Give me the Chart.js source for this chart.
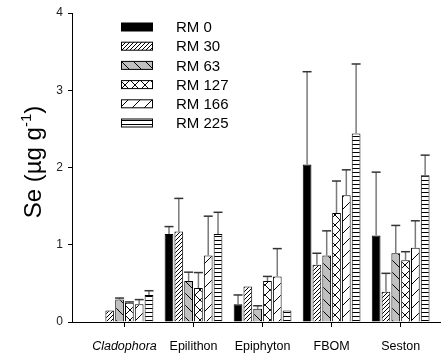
<!DOCTYPE html>
<html>
<head>
<meta charset="utf-8">
<script src="https://cdn.jsdelivr.net/npm/chart.js@4.4.0/dist/chart.umd.min.js"></script>
<style>
  body { margin: 0; background: #fff; }
  #wrap { width: 443px; height: 361px; }
</style>
</head>
<body>
<div id="wrap"><canvas id="seChart"></canvas></div>
<script>
// sample types along the x axis
const categories = ["Cladophora", "Epilithon", "Epiphyton", "FBOM", "Seston"];
const seriesNames = ["RM 0", "RM 30", "RM 63", "RM 127", "RM 166", "RM 225"];
const yTicks = [0, 1, 2, 3, 4];

// mean Se per site, one value per category
const rm0 = [null, 1.14, 0.23, 2.04, 1.12];
const rm30 = [0.15, 1.17, 0.46, 0.74, 0.39];
const rm63 = [0.29, 0.53, 0.17, 0.86, 0.89];
const rm127 = [0.25, 0.44, 0.53, 1.41, 0.80];
const rm166 = [0.23, 0.86, 0.59, 1.64, 0.96];
const rm225 = [0.35, 1.14, 0.15, 2.44, 1.90];

// upper error (SD) for each mean
const err0 = [null, 0.095, 0.12, 1.2, 0.82];
const err30 = [0, 0.43, 0, 0.15, 0.24];
const err63 = [0.02, 0.115, 0.04, 0.32, 0.36];
const err127 = [0.01, 0.2, 0.06, 0.415, 0.11];
const err166 = [0.06, 0.51, 0.36, 0.33, 0.35];
const err225 = [0.055, 0.28, 0, 0.9, 0.26];

const means = [rm0, rm30, rm63, rm127, rm166, rm225];
const errs = [err0, err30, err63, err127, err166, err225];

// fill patterns
function makePattern(w, h, bg, draw) {
  const c = document.createElement("canvas");
  c.width = w; c.height = h;
  const g = c.getContext("2d");
  g.fillStyle = bg;
  g.fillRect(0, 0, w, h);
  g.strokeStyle = "#000";
  g.lineWidth = 1;
  draw(g, w, h);
  return g.createPattern(c, "repeat");
}
function fwd(g, w, h) { // "/" lines
  g.beginPath();
  g.moveTo(-1, h + 1); g.lineTo(w + 1, -1);
  g.moveTo(-w - 1, h + 1); g.lineTo(1, -1);
  g.moveTo(w - 1, h + 1); g.lineTo(2 * w + 1, -1);
  g.stroke();
}
function back(g, w, h) { // "\" lines
  g.beginPath();
  g.moveTo(-1, -1); g.lineTo(w + 1, h + 1);
  g.moveTo(-w - 1, -1); g.lineTo(1, h + 1);
  g.moveTo(w - 1, -1); g.lineTo(2 * w + 1, h + 1);
  g.stroke();
}

const fills = [
  "#000",
  makePattern(4, 4, "#fff", fwd),
  makePattern(12, 12, "#c0c0c0", back),
  makePattern(10, 10, "#fff", (g, w, h) => { fwd(g, w, h); back(g, w, h); }),
  makePattern(12, 12, "#fff", fwd),
  makePattern(4, 4, "#fff", (g, w) => {
    g.beginPath(); g.moveTo(0, 0.5); g.lineTo(w, 0.5); g.stroke();
  })
];

const datasets = seriesNames.map((name, s) => ({
  label: name,
  data: means[s].map((v, i) => ({ x: i, y: v })),
  backgroundColor: fills[s],
  borderColor: "#000",
  borderWidth: 1,
  categoryPercentage: 0.852,
  barPercentage: 0.89
}));

// error bars above each bar
const errorBars = {
  id: "errorBars",
  afterDatasetsDraw(chart) {
    const ctx = chart.ctx;
    const y = chart.scales.y;
    ctx.save();
    chart.data.datasets.forEach((ds, s) => {
      const meta = chart.getDatasetMeta(s);
      meta.data.forEach((bar, i) => {
        const m = means[s][i], e = errs[s][i];
        if (m == null || !e) return;
        const top = y.getPixelForValue(m + e);
        ctx.strokeStyle = "#7a7a7a";
        ctx.lineWidth = 1.5;
        ctx.beginPath();
        ctx.moveTo(bar.x, bar.y);
        ctx.lineTo(bar.x, top);
        ctx.stroke();
        ctx.strokeStyle = "#333";
        ctx.beginPath();
        ctx.moveTo(bar.x - 4.5, top);
        ctx.lineTo(bar.x + 4.5, top);
        ctx.stroke();
      });
    });
    ctx.restore();
  }
};

// legend block and rotated y title
const decor = {
  id: "decor",
  afterDraw(chart) {
    const ctx = chart.ctx;
    ctx.save();
    ctx.font = "15px 'Liberation Sans', Arial, sans-serif";
    ctx.textBaseline = "middle";
    seriesNames.forEach((name, s) => {
      const cy = 27 + s * 19.2;
      ctx.fillStyle = fills[s];
      ctx.fillRect(121.5, cy - 4, 31, 8);
      ctx.strokeStyle = "#000";
      ctx.lineWidth = 1;
      ctx.strokeRect(121.5, cy - 4, 31, 8);
      ctx.fillStyle = "#000";
      ctx.fillText(name, 176, cy + 1);
    });

    ctx.translate(33, 162);
    ctx.rotate(-Math.PI / 2);
    const big = "24px 'Liberation Sans', Arial, sans-serif";
    const small = "15px 'Liberation Sans', Arial, sans-serif";
    const a = "Se (\u00b5g g", sup = "-1", b = ")";
    ctx.font = big; const wa = ctx.measureText(a).width, wb = ctx.measureText(b).width;
    ctx.font = small; const ws = ctx.measureText(sup).width;
    let x = -(wa + ws + wb) / 2;
    ctx.textBaseline = "alphabetic";
    ctx.fillStyle = "#000";
    ctx.font = big; ctx.fillText(a, x, 8); x += wa;
    ctx.font = small; ctx.fillText(sup, x, -2); x += ws;
    ctx.font = big; ctx.fillText(b, x, 8);
    ctx.restore();
  }
};

new Chart(document.getElementById("seChart"), {
  type: "bar",
  data: { datasets },
  options: {
    responsive: true,
    maintainAspectRatio: false,
    animation: false,
    layout: { padding: { top: 13, right: 3, left: 0, bottom: 0 } },
    plugins: { legend: { display: false }, tooltip: { enabled: false } },
    scales: {
      x: {
        type: "linear",
        offset: false,
        min: -0.76,
        max: 4.57,
        afterBuildTicks: sc => { sc.ticks = categories.map((c, i) => ({ value: i })); },
        afterFit: sc => { sc.height = 39; },
        grid: { offset: false, drawOnChartArea: false, tickLength: 5, color: "#000" },
        border: { color: "#000", width: 1 },
        ticks: {
          padding: 12,
          color: "#000",
          maxRotation: 0,
          autoSkip: false,
          callback: v => categories[v],
          font: c => ({
            family: "'Liberation Sans', Arial, sans-serif",
            size: 12.5,
            style: c.index === 0 ? "italic" : "normal"
          })
        }
      },
      y: {
        min: 0,
        max: 4,
        afterBuildTicks: sc => { sc.ticks = yTicks.map(v => ({ value: v })); },
        afterFit: sc => { sc.width = 72; },
        grid: { drawOnChartArea: false, tickLength: 4, color: "#000" },
        border: { color: "#000", width: 1 },
        ticks: {
          padding: 5,
          color: "#222",
          font: { family: "'Liberation Sans', Arial, sans-serif", size: 12 }
        }
      }
    }
  },
  plugins: [errorBars, decor]
});
</script>
</body>
</html>
